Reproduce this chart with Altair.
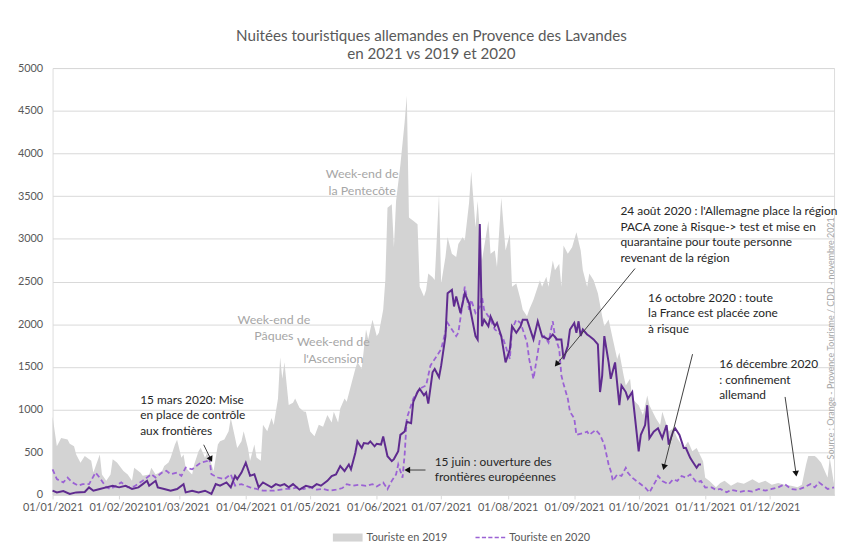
import altair as alt
import pandas as pd

# ---------------- data (day index from 01/01/2021, value) ----------------
days_2019 = [0, 2, 4, 7, 8, 10, 11, 13, 15, 18, 19, 22, 23, 25, 27, 28, 30, 33, 35, 37, 38, 41, 42, 45, 46, 48,
             51, 52, 54, 55, 57, 58, 60, 61, 62, 65, 66, 68, 69, 71, 72, 74, 75, 77, 78, 80, 82, 83, 85, 86, 88,
             89, 91, 92, 94, 95, 97, 98, 100, 102, 103, 105, 106, 107, 108, 110, 112, 113, 115, 117, 118, 120,
             122, 124, 126, 128, 130, 131, 133, 134, 136, 137, 139, 141, 142, 144, 146, 147, 149, 151, 152, 154,
             155, 156, 158, 159, 160, 162, 164, 165, 166, 168, 170, 171, 173, 174, 175, 177, 178, 180, 181, 183,
             184, 186, 188, 189, 191, 192, 194, 195, 197, 198, 200, 201, 203, 204, 206, 207, 209, 210, 211, 213,
             214, 216, 218, 219, 221, 222, 224, 227, 228, 230, 231, 233, 234, 236, 237, 238, 240, 242, 244, 246,
             247, 249, 250, 252, 254, 256, 257, 259, 261, 263, 264, 266, 267, 269, 270, 273, 275, 277, 278, 281,
             283, 284, 287, 289, 291, 294, 296, 298, 300, 303, 304, 306, 309, 311, 313, 316, 319, 322, 326, 329,
             332, 335, 338, 341, 344, 347, 349, 351, 352, 355, 356, 358, 359, 361, 362, 364]
vals_2019 = [918, 570, 667, 650, 600, 571, 475, 378, 455, 400, 262, 475, 240, 166, 240, 417, 380, 282, 240, 166,
             320, 260, 225, 240, 320, 240, 280, 340, 380, 436, 590, 648, 436, 475, 320, 240, 360, 513, 552, 436,
             490, 360, 280, 590, 629, 650, 745, 900, 670, 550, 629, 745, 550, 400, 590, 440, 400, 822, 745, 900,
             820, 1130, 1612, 1362, 1555, 1053, 1080, 1130, 1020, 976, 974, 744, 687, 821, 800, 937, 850, 974,
             850, 1014, 1130, 1092, 1284, 1475, 1553, 1478, 1938, 1823, 2053, 1863, 1900, 2169, 2517, 3365, 3404,
             2902, 3442, 3866, 4368, 4676, 3249, 3211, 3172, 2440, 2324, 2400, 2594, 2550, 2517, 3522, 2478, 2786,
             3018, 2825, 2786, 2940, 3018, 2979, 3423, 3789, 3134, 3442, 2747, 2902, 3211, 2825, 2863, 2670, 3481,
             3172, 2863, 3056, 2439, 2478, 2285, 2169, 2092, 2169, 2285, 2516, 2439, 2555, 2439, 2747, 2632, 2709,
             2439, 2921, 2825, 2902, 3076, 2864, 2632, 2439, 2594, 2516, 2362, 2092, 1976, 2054, 1822, 1591, 1668,
             1398, 1282, 1360, 1128, 1051, 935, 1166, 1051, 897, 819, 974, 742, 781, 665, 550, 627, 511, 550, 395,
             202, 164, 89, 140, 166, 108, 150, 130, 185, 140, 166, 120, 140, 120, 108, 89, 120, 359, 455, 455, 436,
             378, 320, 204, 436, 127]

days_2020 = [0, 2, 5, 7, 9, 12, 14, 17, 20, 22, 25, 27, 29, 32, 35, 38, 42, 44, 46, 48, 51, 53, 55, 58, 60, 62,
             65, 67, 69, 72, 73, 74, 77, 80, 83, 85, 88, 92, 95, 98, 103, 108, 111, 114, 117, 120, 123, 126, 129,
             132, 135, 137, 140, 143, 146, 149, 151, 154, 156, 158, 160, 161, 163, 164, 165, 167, 168, 170, 171,
             174, 176, 178, 181, 184, 186, 188, 189, 191, 192, 194, 195, 197, 199, 200, 201, 204, 206, 208, 210,
             211, 213, 214, 216, 218, 219, 221, 222, 224, 225, 227, 229, 231, 233, 234, 236, 237, 238, 240, 241,
             243, 244, 247, 249, 250, 253, 255, 257, 259, 260, 261, 263, 265, 267, 268, 270, 274, 276, 278, 281,
             282, 284, 287, 289, 291, 293, 295, 297, 300, 302, 304, 307, 309, 311, 314, 316, 318, 320, 323, 326,
             329, 332, 335, 338, 341, 344, 347, 350, 353, 355, 357, 359, 361, 364]
vals_2020 = [300, 185, 147, 204, 150, 108, 127, 127, 262, 200, 89, 70, 100, 147, 90, 100, 166, 204, 243, 204, 262,
             282, 243, 262, 224, 320, 300, 340, 378, 397, 436, 243, 204, 185, 243, 108, 127, 89, 70, 50, 50, 70,
             70, 89, 70, 89, 62, 70, 50, 62, 81, 127, 108, 120, 106, 127, 100, 145, 68, 165, 241, 357, 203, 474,
             897, 1051, 1128, 1205, 1244, 1283, 1514, 1591, 1707, 2015, 1938, 1860, 1900, 2246, 2439, 2169, 2285,
             2131, 2200, 2324, 2169, 2053, 1938, 1900, 1822, 1745, 1591, 1938, 2053, 2015, 1938, 1784, 1591, 1360,
             1514, 1822, 1860, 1784, 2034, 1860, 1707, 1398, 1300, 1128, 974, 897, 704, 723, 742, 704, 762, 704,
             588, 357, 280, 164, 241, 222, 318, 260, 202, 125, 87, 29, 164, 222, 164, 125, 183, 164, 222, 202, 241,
             145, 164, 87, 89, 60, 70, 31, 60, 50, 35, 50, 40, 70, 50, 70, 89, 127, 70, 60, 89, 127, 89, 147, 108,
             70, 89]

days_2021 = [0, 2, 5, 8, 11, 15, 17, 19, 22, 25, 28, 31, 34, 37, 40, 42, 44, 45, 48, 49, 52, 55, 58, 61, 62, 65,
             68, 71, 74, 76, 78, 81, 83, 85, 86, 88, 90, 92, 94, 96, 98, 102, 104, 106, 108, 110, 112, 115, 118,
             121, 123, 125, 128, 130, 132, 134, 136, 138, 139, 141, 142, 144, 145, 147, 148, 150, 151, 153, 154,
             156, 158, 159, 161, 162, 164, 165, 167, 168, 170, 171, 173, 174, 175, 177, 178, 180, 181, 183, 184,
             186, 187, 188, 190, 192, 194, 197, 198, 199, 200, 201, 203, 204, 206, 207, 209, 211, 213, 214, 216,
             218, 219, 221, 224, 226, 228, 231, 233, 235, 237, 238, 240, 241, 243, 244, 245, 246, 247, 249, 250,
             252, 254, 255, 256, 257, 259, 260, 262, 264, 265, 267, 268, 270, 271, 272, 273, 274, 276, 277, 278,
             280, 282, 284, 286, 287, 289, 290, 292, 294, 295, 297, 298, 300, 301, 302]
vals_2021 = [50, 30, 45, 12, 30, 35, 89, 50, 70, 89, 108, 89, 108, 70, 89, 127, 166, 108, 166, 89, 70, 50, 70, 127,
             30, 50, 30, 50, 12, 127, 108, 147, 89, 224, 185, 262, 378, 224, 243, 89, 147, 89, 127, 108, 127, 89,
             127, 62, 106, 89, 127, 108, 165, 222, 241, 338, 280, 357, 300, 492, 627, 550, 608, 600, 627, 570, 600,
             590, 685, 454, 396, 420, 512, 704, 743, 858, 840, 1089, 1205, 1244, 1167, 1200, 1070, 1437, 1475, 1379,
             1514, 1860, 2362, 2401, 2208, 2324, 2131, 2362, 2246, 1860, 1820, 3172, 1976, 2053, 1976, 2092, 1976,
             2015, 1860, 1552, 1707, 1976, 1900, 1976, 2053, 2053, 1822, 2034, 1860, 1822, 1880, 1822, 1822, 1591,
             1745, 1938, 2015, 1900, 2034, 1861, 1938, 1880, 1861, 1822, 1764, 1205, 1398, 1861, 1552, 1360, 1552,
             1051, 1282, 1205, 1128, 1205, 974, 742, 511, 704, 819, 1051, 665, 742, 781, 665, 819, 588, 742, 781,
             704, 550, 550, 434, 395, 318, 357, 357]

month_ticks = list(range(1, 13))

title_lines = ["Nuitées touristiques allemandes en Provence des Lavandes", "en 2021 vs 2019 et 2020"]

legend_labels = ["Touriste en 2019", "Touriste en 2020"]

# grey event labels (2019 holidays)
holiday_text = ["Week-end de\nPâques", "Week-end de\nl'Ascension", "Week-end de\nla Pentecôte"]
holiday_day = [103.1, 130.8, 144.2]
holiday_val = [2007, 1741, 3708]

# black annotations
note_text = [
    "15 mars 2020: Mise\nen place de contrôle\naux frontières",
    "15 juin : ouverture des\nfrontières européennes",
    "24 août 2020 : l'Allemagne  place la région\nPACA zone à Risque-> test et  mise en\nquarantaine pour toute personne\nrevenant de la région",
    "16 octobre  2020 : toute\nla France est placée zone\nà risque",
    "16 décembre 2020\n: confinement\nallemand",
]
note_day = [40.8, 178.0, 264.5, 277.4, 310.5]
note_val = [1070, 341, 3280, 2262, 1487]

# arrows: start -> head
arrow_from_day = [70.4, 173.7, 271.3, 298.1, 341.2]
arrow_from_val = [588, 292, 2652, 1649, 1148]
arrow_head_day = [73.7, 165.2, 234.8, 284.8, 346.3]
arrow_head_val = [418, 292, 1531, 325, 249]
arrow_angle = [154, 270, 219, 194, 172]

source_text = "Source : Orange - Provence Tourisme  / CDD - novembre 2021"
source_day = 362.6
source_val = 1834

# ---------------- helpers ----------------
base = pd.Timestamp("2021-01-01")


def to_dates(days):
    return [(base + pd.Timedelta(days=float(d))).strftime("%Y-%m-%dT%H:%M:%S") for d in days]


df19 = pd.DataFrame({"date": to_dates(days_2019), "v": vals_2019})
df20 = pd.DataFrame({"date": to_dates(days_2020), "v": vals_2020})
df21 = pd.DataFrame({"date": to_dates(days_2021), "v": vals_2021})
df_hol = pd.DataFrame({"date": to_dates(holiday_day), "v": holiday_val, "label": holiday_text})
df_note = pd.DataFrame({"date": to_dates(note_day), "v": note_val, "label": note_text})
df_arrow = pd.DataFrame({
    "date": to_dates(arrow_from_day), "v": arrow_from_val,
    "date2": to_dates(arrow_head_day), "v2": arrow_head_val, "angle": arrow_angle,
})
df_src = pd.DataFrame({"date": to_dates([source_day]), "v": [source_val], "label": [source_text]})
df_leg = pd.DataFrame({"date": to_dates([0, 0]), "v": [0, 0], "serie": legend_labels})

FONT = "Lato"
GREY_TXT = "#595959"

x_enc = alt.X(
    "date:T",
    scale=alt.Scale(domain=[alt.DateTime(year=2021, month=1, date=1),
                            alt.DateTime(year=2021, month=12, date=31)]),
    axis=alt.Axis(
        values=[alt.DateTime(year=2021, month=m, date=1) for m in month_ticks],
        format="%d/%m/%Y", title=None, grid=False,
        labelFontSize=11, labelColor=GREY_TXT, labelFont=FONT,
        domainColor="#d9d9d9", tickColor="#d9d9d9", tickSize=4, labelPadding=3,
        labelOverlap=False, labelFlush=False,
    ),
)
y_enc = alt.Y(
    "v:Q",
    scale=alt.Scale(domain=[0, 5000]),
    axis=alt.Axis(
        values=list(range(0, 5001, 500)), format="d", title=None, domain=False, ticks=False,
        labelPadding=10, labelFontSize=11, labelColor=GREY_TXT, labelFont=FONT,
        gridColor="#d9d9d9", gridWidth=1,
    ),
)

area19 = alt.Chart(df19).mark_area(color="#d3d3d3", interpolate="linear").encode(x=x_enc, y=y_enc)
line20 = alt.Chart(df20).mark_line(color="#9b62d4", strokeWidth=1.8, strokeDash=[5, 3]).encode(x=x_enc, y=y_enc)
line21 = alt.Chart(df21).mark_line(color="#5f2b8f", strokeWidth=2).encode(x=x_enc, y=y_enc)

hol = alt.Chart(df_hol).mark_text(
    align="center", baseline="alphabetic", lineBreak="\n", lineHeight=16.5,
    fontSize=12.5, font=FONT, color="#a6a6a6",
).encode(x=x_enc, y=y_enc, text="label:N")

notes = alt.Chart(df_note).mark_text(
    align="left", baseline="alphabetic", lineBreak="\n", lineHeight=15.8,
    fontSize=12, font=FONT, color="#262626",
).encode(x=x_enc, y=y_enc, text="label:N")

arrows = alt.Chart(df_arrow).mark_rule(color="#404040", strokeWidth=1).encode(
    x=x_enc, y=y_enc, x2="date2:T", y2="v2:Q"
)
heads = alt.Chart(df_arrow).mark_point(shape="triangle-up", filled=True, size=45, color="#111111", opacity=1).encode(
    x=alt.X("date2:T"), y=alt.Y("v2:Q"), angle=alt.Angle("angle:Q", scale=None)
)

src = alt.Chart(df_src).mark_text(
    angle=270, align="center", baseline="middle", fontSize=9, font=FONT, color="#a6a6a6",
).encode(x=x_enc, y=y_enc, text="label:N")

rect_path = "M-1,-0.27H1V0.27H-1Z"
dash_path = ("M-1,-0.05H-0.72V0.05H-1Z M-0.57,-0.05H-0.29V0.05H-0.57Z M-0.14,-0.05H0.14V0.05H-0.14Z "
             "M0.29,-0.05H0.57V0.05H0.29Z M0.72,-0.05H1V0.05H0.72Z")
leg_def = alt.Legend(
    title=None, orient="none", legendX=283, legendY=459, direction="horizontal",
    symbolSize=900, symbolOpacity=1, symbolStrokeWidth=0, labelFontSize=11, labelColor=GREY_TXT,
    labelFont=FONT, labelOffset=4, columnPadding=28, padding=0, labelLimit=300,
)
legend_layer = alt.Chart(df_leg).mark_point(filled=True, opacity=0).encode(
    x=x_enc, y=y_enc,
    color=alt.Color("serie:N", scale=alt.Scale(domain=legend_labels, range=["#d3d3d3", "#9b62d4"]), legend=leg_def),
    shape=alt.Shape("serie:N", scale=alt.Scale(domain=legend_labels, range=[rect_path, dash_path]), legend=leg_def),
)

chart = alt.layer(area19, line20, line21, hol, arrows, heads, notes, src, legend_layer).properties(
    width=789,
    height=431,
    autosize=alt.AutoSizeParams(type="none"),
    padding={"left": 45, "top": 58, "right": 4, "bottom": 60},
    title=alt.TitleParams(
        text=title_lines, fontSize=15.3, font=FONT, fontWeight="normal", color=GREY_TXT,
        anchor="middle", frame="group", dx=-12, offset=0, lineHeight=18.3,
    ),
).configure_view(stroke=None).configure(background="white")

chart.save("out.html", embed_options={"renderer": "svg", "actions": False})
